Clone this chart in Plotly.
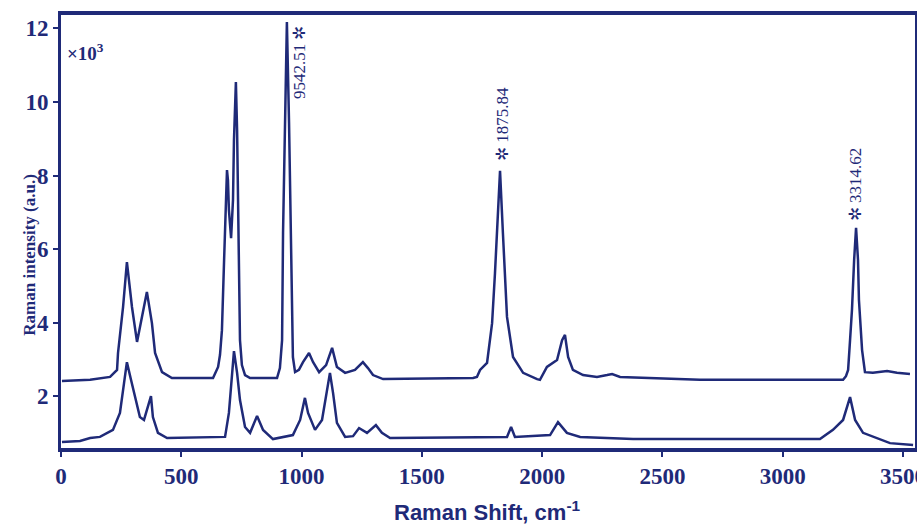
import plotly.graph_objects as go

# Upper spectrum (Raman shift cm-1, intensity x10^3)
upper_x = [4, 121, 204, 233, 237, 258, 274, 295, 316, 337, 357, 378, 391, 420, 461, 632,
           653, 661, 669, 678, 686, 690, 694, 698, 707, 715, 719, 723, 727, 732, 736, 740,
           744, 752, 765, 786, 898, 910, 919, 923, 931, 939, 948, 956, 960, 964, 973, 989,
           1006, 1031, 1048, 1073, 1102, 1127, 1147, 1181, 1222, 1255, 1276, 1297, 1339,
           1713, 1729, 1742, 1771, 1792, 1804, 1817, 1825, 1837, 1854, 1879, 1921, 1979,
           1991, 2020, 2062, 2083, 2095, 2108, 2128, 2170, 2228, 2270, 2291, 2324, 2449,
           2656, 3085, 3251, 3263, 3272, 3280, 3288, 3297, 3305, 3313, 3317, 3330, 3342,
           3375, 3434, 3475, 3529]
upper_y = [2.42, 2.45, 2.53, 2.72, 3.18, 4.43, 5.65, 4.43, 3.48, 4.16, 4.84, 3.99, 3.18,
           2.66, 2.50, 2.50, 2.80, 3.13, 3.80, 5.71, 7.47, 8.15, 7.88, 7.07, 6.30, 7.34,
           8.97, 10.05, 10.54, 9.24, 6.79, 4.62, 3.53, 2.85, 2.58, 2.50, 2.50, 2.77, 3.53,
           6.44, 9.43, 12.17, 9.43, 6.44, 3.80, 3.07, 2.66, 2.72, 2.93, 3.18, 2.93, 2.66,
           2.85, 3.32, 2.80, 2.64, 2.72, 2.93, 2.77, 2.58, 2.47, 2.50, 2.53, 2.72, 2.91,
           3.99, 5.35, 7.34, 8.13, 6.44, 4.16, 3.07, 2.64, 2.47, 2.45, 2.80, 2.99, 3.53,
           3.67, 3.07, 2.72, 2.58, 2.53, 2.58, 2.61, 2.53, 2.50, 2.45, 2.45, 2.45, 2.55,
           2.72, 3.53, 4.35, 5.71, 6.58, 5.71, 4.62, 3.26, 2.66, 2.64, 2.69, 2.64, 2.61]

# Lower spectrum
lower_x = [4, 79, 121, 162, 216, 245, 262, 274, 291, 308, 328, 345, 362, 374, 382, 403,
           441, 682, 698, 711, 719, 732, 744, 765, 786, 815, 840, 881, 964, 994, 1014,
           1027, 1056, 1085, 1106, 1118, 1131, 1147, 1181, 1214, 1239, 1272, 1309, 1334,
           1368, 1700, 1854, 1871, 1887, 2033, 2066, 2103, 2158, 2378, 3155, 3209, 3251,
           3280, 3301, 3334, 3405, 3446, 3542]
lower_y = [0.76, 0.79, 0.87, 0.90, 1.09, 1.55, 2.36, 2.93, 2.45, 1.98, 1.44, 1.36, 1.71,
           2.01, 1.44, 1.01, 0.87, 0.90, 1.55, 2.64, 3.23, 2.64, 1.90, 1.17, 1.01, 1.47,
           1.09, 0.84, 0.95, 1.36, 1.96, 1.55, 1.09, 1.36, 2.26, 2.64, 2.09, 1.28, 0.90,
           0.92, 1.14, 1.01, 1.22, 1.01, 0.87, 0.90, 0.90, 1.17, 0.90, 0.95, 1.30, 1.01,
           0.90, 0.84, 0.84, 1.09, 1.36, 1.98, 1.36, 1.01, 0.82, 0.73, 0.68]

x_ticks = [0, 500, 1000, 1500, 2000, 2500, 3000, 3500]
y_ticks = [2, 4, 6, 8, 10, 12]

# Peak labels: (text, x, y)
peak_labels = [("9542.51 ✲", 994, 11.09), ("✲ 1875.84", 1833, 9.40), ("✲ 3314.62", 3301, 7.77)]

NAVY = "#1f2a78"
SERIF = "Liberation Serif, Times New Roman, serif"

fig = go.Figure()
fig.add_trace(go.Scatter(x=upper_x, y=upper_y, mode="lines",
                         line=dict(color=NAVY, width=2.5), showlegend=False))
fig.add_trace(go.Scatter(x=lower_x, y=lower_y, mode="lines",
                         line=dict(color=NAVY, width=2.5), showlegend=False))

for txt, xx, yy in peak_labels:
    fig.add_annotation(x=xx, y=yy, text=txt, textangle=-90, showarrow=False,
                       font=dict(family=SERIF, size=17, color=NAVY))

fig.add_annotation(x=100, y=11.35, text="<b>×10<sup>3</sup></b>", showarrow=False,
                   font=dict(family=SERIF, size=19, color=NAVY), xanchor="center")
fig.add_annotation(xref="paper", yref="paper", x=-0.05, y=0.446,
                   text="<b>Raman intensity (a.u.)</b>", textangle=-90, showarrow=False,
                   font=dict(family=SERIF, size=17, color=NAVY))
fig.add_annotation(xref="paper", yref="paper", x=0.499, y=-0.145, yanchor="middle",
                   text="<b>Raman Shift, cm<sup>-1</sup></b>", showarrow=False,
                   font=dict(family="Liberation Sans, Arial, sans-serif", size=22, color=NAVY))

fig.update_layout(
    width=917, height=530,
    margin=dict(l=61, r=2, t=15, b=82),
    paper_bgcolor="white", plot_bgcolor="white",
    xaxis=dict(range=[0, 3550], tickvals=x_ticks, ticktext=[f"<b>{v}</b>" for v in x_ticks],
               showgrid=False, zeroline=False, showline=True, linecolor=NAVY, linewidth=3.5,
               mirror=True, ticks="outside", ticklen=5, tickwidth=2, tickcolor=NAVY,
               automargin=False, ticklabeloverflow="allow",
               tickfont=dict(family=SERIF, size=23, color=NAVY)),
    yaxis=dict(range=[0.598, 12.364], tickvals=y_ticks, ticktext=[f"<b>{v}</b>" for v in y_ticks],
               showgrid=False, zeroline=False, showline=True, linecolor=NAVY, linewidth=3,
               mirror=True, ticks="outside", ticklen=5, tickwidth=2, tickcolor=NAVY,
               automargin=False, ticklabeloverflow="allow",
               tickfont=dict(family=SERIF, size=23, color=NAVY)),
)

fig.write_html("out.html", config={"displayModeBar": False},
               post_script="document.body.style.margin='0';document.body.style.overflow='hidden';")
